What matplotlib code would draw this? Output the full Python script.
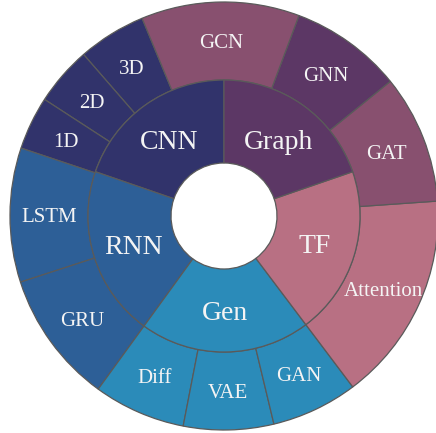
import numpy as np
import matplotlib
matplotlib.use('Agg')
import matplotlib.pyplot as plt

# inner ring (groups), counter-clockwise from the top
groups = ['CNN', 'RNN', 'Gen', 'TF', 'Graph']
group_vals = [71, 73, 73, 72, 71]
group_colors = ['#31336b', '#2d5f97', '#2b8bb9', '#b87083', '#5c3765']

# outer ring (leaves), counter-clockwise from 112.5 deg
leaves = ['3D', '2D', '1D', 'LSTM', 'GRU', 'Diff', 'VAE', 'GAN',
          'Attention', 'GAT', 'GNN', 'GCN']
leaf_vals = [18.5, 16, 14.5, 36.5, 36, 25, 24.5, 23.5, 57, 35, 30.5, 43]
leaf_colors = ['#31336b', '#31336b', '#31336b', '#2d5f97', '#2d5f97',
               '#2b8bb9', '#2b8bb9', '#2b8bb9', '#b87083',
               '#88506f', '#5c3765', '#88506f']

R_OUT, R_MID, R_IN = 214, 136, 53
edge = dict(edgecolor='#5a5a5a', linewidth=0.9)

fig = plt.figure(figsize=(4.36, 4.33), dpi=100)
ax = fig.add_axes([0, 0, 1, 1])

ax.pie(leaf_vals, radius=R_OUT, colors=leaf_colors, startangle=112.5,
       wedgeprops=dict(width=R_OUT - R_MID, **edge))
ax.pie(group_vals, radius=R_MID, colors=group_colors, startangle=90,
       wedgeprops=dict(width=R_MID - R_IN, **edge))


def put_labels(names, vals, start, r, size):
    edges = start + np.concatenate([[0], np.cumsum(vals)])
    mids = np.deg2rad((edges[:-1] + edges[1:]) / 2)
    for name, a in zip(names, mids):
        ax.text(r * np.cos(a), r * np.sin(a), name, ha='center',
                va='center_baseline', color='#f4f4f4', fontsize=size,
                family='Liberation Serif')


put_labels(groups, group_vals, 90, (R_MID + R_IN) / 2, 20)
put_labels(leaves, leaf_vals, 112.5, (R_OUT + R_MID) / 2, 15)

ax.set_xlim(-224, 212)
ax.set_ylim(-217, 216)
ax.set_aspect('equal')
ax.axis('off')

fig.savefig('out.png', dpi=100, facecolor='white')
